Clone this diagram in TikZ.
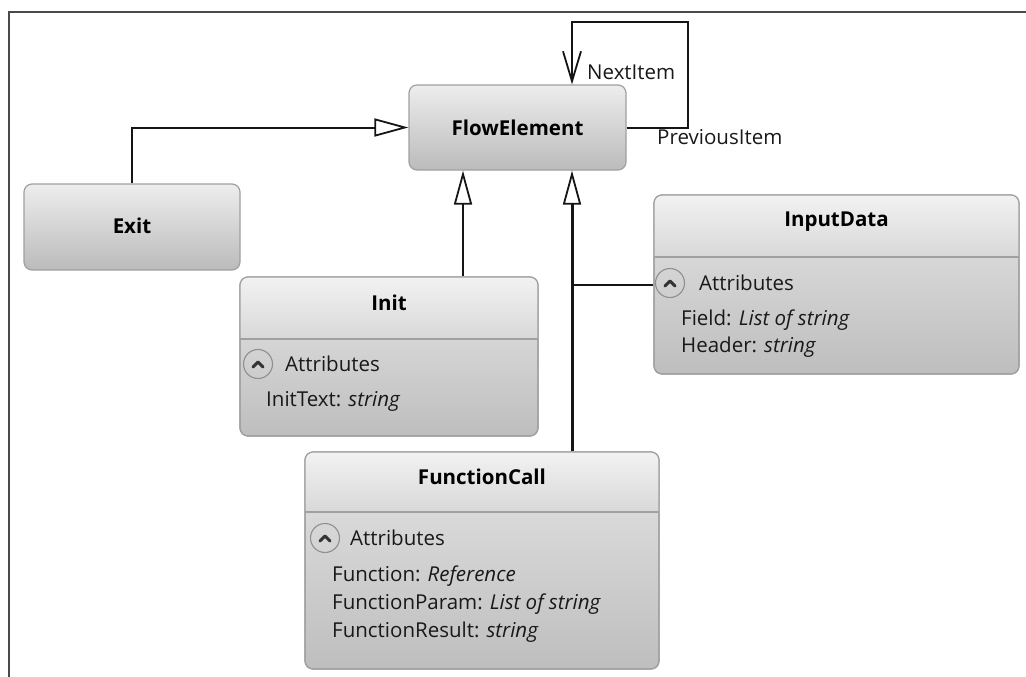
\documentclass[tikz,border=0pt]{standalone}
\usepackage{fontspec}
\setmainfont{Open Sans}
\usetikzlibrary{arrows.meta}
\definecolor{boxborder}{HTML}{A0A0A0}
\definecolor{hdtop}{HTML}{F2F2F2}
\definecolor{hdbot}{HTML}{D8D8D8}
\definecolor{bdtop}{HTML}{E4E4E4}
\definecolor{bdbot}{HTML}{BEBEBE}
\definecolor{sbtop}{HTML}{EDEDED}
\definecolor{sbbot}{HTML}{BBBBBB}
\definecolor{linec}{HTML}{151515}
\definecolor{framec}{HTML}{4A4A4A}
\definecolor{iconc}{HTML}{909090}
\tikzset{
  simplebox/.style={draw=boxborder, line width=1.2pt, rounded corners=8pt,
    top color=sbtop, bottom color=sbbot, inner sep=0pt,
    font=\fontsize{20.5}{24}\selectfont\bfseries},
  classbox/.style={draw=boxborder, line width=1.2pt, rounded corners=8pt,
    top color=bdtop, bottom color=bdbot, inner sep=0pt},
  boxedge/.style={draw=boxborder, line width=1.2pt},
  titletext/.style={font=\fontsize{20.5}{24}\selectfont\bfseries, inner sep=0pt},
  attrtext/.style={font=\fontsize{20.5}{24}\selectfont, inner sep=0pt, anchor=west, text=black!90},
  icon/.style={circle, draw=iconc, line width=1.1pt, minimum size=29pt, inner sep=0pt},
  chevron/.style={line width=3pt, draw=black!80, line cap=round, line join=round},
  conn/.style={draw=linec, line width=2pt},
  thickconn/.style={draw=linec, line width=3pt},
  gen/.style={-{Triangle[open, length=34pt, width=18pt, line width=1.8pt]}},
  assoc/.style={-{Straight Barb[length=30pt, width=18pt, line width=1.8pt]}},
  lbl/.style={font=\fontsize{20.5}{24}\selectfont, inner sep=0pt, anchor=west, text=black!90},
}
\begin{document}
\begin{tikzpicture}[x=1pt, y=-1pt]
\useasboundingbox (0,0) rectangle (1026,677);
% frame
\draw[framec, line width=2pt] (9,677) -- (9,12) -- (1026,12);

% simple boxes
\node[simplebox, minimum width=217pt, minimum height=85pt] (flow) at (517.5,127.5) {FlowElement};
\node[simplebox, minimum width=216pt, minimum height=86pt, text depth=2pt] (exit) at (132,227) {Exit\vphantom{FlowElement}};

% Init box
\node[classbox, minimum width=298pt, minimum height=159pt] (init) at (389,356.5) {};
\begin{scope}
  \clip[rounded corners=8pt] (240,277) rectangle (538,436);
  \shade[top color=hdtop, bottom color=hdbot] (240,277) rectangle (538,339);
\end{scope}
\draw[boxedge, rounded corners=8pt] (240,277) rectangle (538,436);
\draw[boxedge] (240,339) -- (538,339);
\node[titletext] (initt) at (389,303) {Init};
\node[icon] (ic1) at (258,364) {};
\draw[chevron] ([shift={(-5,3)}]ic1.center) -- ([shift={(0,-2)}]ic1.center) -- ([shift={(5,3)}]ic1.center);
\node[attrtext] (inita) at (285,364) {Attributes};
\node[attrtext] (initf) at (266,401) {InitText: \textit{string}};

% InputData box
\node[classbox, minimum width=365pt, minimum height=179pt] (inp) at (836.5,284.5) {};
\begin{scope}
  \clip[rounded corners=8pt] (654,195) rectangle (1019,374);
  \shade[top color=hdtop, bottom color=hdbot] (654,195) rectangle (1019,257);
\end{scope}
\draw[boxedge, rounded corners=8pt] (654,195) rectangle (1019,374);
\draw[boxedge] (654,257) -- (1019,257);
\node[titletext] (inpt) at (836.5,222) {InputData};
\node[icon] (ic2) at (670,283) {};
\draw[chevron] ([shift={(-5,3)}]ic2.center) -- ([shift={(0,-2)}]ic2.center) -- ([shift={(5,3)}]ic2.center);
\node[attrtext] (inpa) at (699,283) {Attributes};
\node[attrtext] (inpf1) at (681,320) {Field: \textit{List of string}};
\node[attrtext] (inpf2) at (681,347) {Header: \textit{string}};

% FunctionCall box
\node[classbox, minimum width=354pt, minimum height=217pt] (fc) at (482,560.5) {};
\begin{scope}
  \clip[rounded corners=8pt] (305,452) rectangle (659,669);
  \shade[top color=hdtop, bottom color=hdbot] (305,452) rectangle (659,512);
\end{scope}
\draw[boxedge, rounded corners=8pt] (305,452) rectangle (659,669);
\draw[boxedge] (305,512) -- (659,512);
\node[titletext] (fct) at (482,477) {FunctionCall};
\node[icon] (ic3) at (325,538) {};
\draw[chevron] ([shift={(-5,3)}]ic3.center) -- ([shift={(0,-2)}]ic3.center) -- ([shift={(5,3)}]ic3.center);
\node[attrtext] (fca) at (350,538) {Attributes};
\node[attrtext] (fcf1) at (332,576) {Function: \textit{Reference}};
\node[attrtext] (fcf2) at (332,604) {FunctionParam: \textit{List of string}};
\node[attrtext] (fcf3) at (332,632) {FunctionResult: \textit{string}};

% connectors
\draw[conn, gen] (exit.north) |- (flow.west);
\draw[conn, gen] ([xshift=74pt]init.north) -- ([xshift=-54.5pt]flow.south);
\draw[thickconn, gen] ([xshift=90pt]fc.north) -- ([xshift=54.5pt]flow.south);
\coordinate (join) at (572,285);
\draw[conn] (inp.west |- join) -- (join);
\coordinate (loopr) at (688,22);
\coordinate (loopl) at (572,22);
\draw[conn, assoc] (flow.east) -| (loopr) -- (loopl) -- ([xshift=54.5pt]flow.north);
\node[lbl] (next) at (587,72) {NextItem};
\node[lbl] (prev) at (657,137) {PreviousItem};
\end{tikzpicture}
\end{document}
